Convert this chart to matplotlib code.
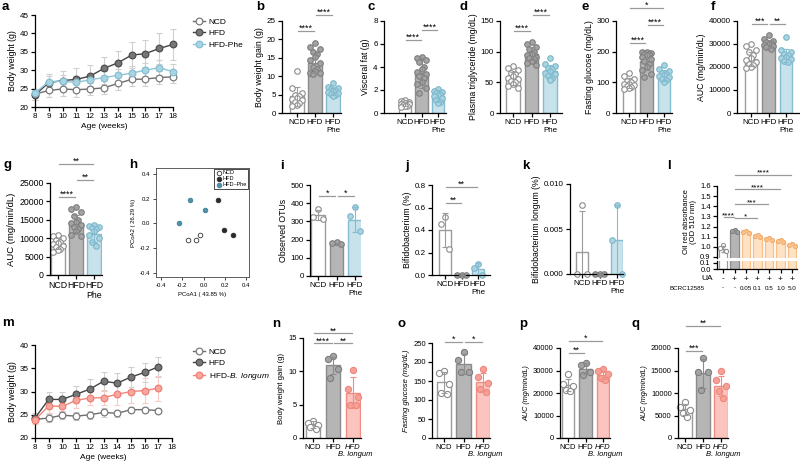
import numpy as np
import matplotlib
matplotlib.use('Agg')
import matplotlib.pyplot as plt
from matplotlib.lines import Line2D
from matplotlib.transforms import blended_transform_factory

plt.rcParams['font.family'] = ['Liberation Sans', 'DejaVu Sans']
plt.rcParams['mathtext.fontset'] = 'custom'
plt.rcParams['mathtext.rm'] = 'Liberation Sans'
plt.rcParams['mathtext.it'] = 'Liberation Sans:italic'
plt.rcParams['axes.linewidth'] = 0.9

# ---------------- data ----------------
weeks_a = [8, 9, 10, 11, 12, 13, 14, 15, 16, 17, 18]
a_ncd = [23.5, 24.5, 24.9, 24.7, 24.9, 25.2, 26.4, 27.5, 27.6, 28.0, 28.2]
a_ncd_sd = [1.5, 1.8, 2.0, 2.0, 1.7, 1.8, 1.8, 1.8, 1.8, 1.8, 1.8]
a_hfd = [23.3, 26.6, 27.2, 27.5, 28.4, 30.5, 32.0, 34.1, 34.5, 35.9, 37.0]
a_hfd_sd = [1.5, 2.3, 2.6, 3.0, 3.1, 3.0, 3.1, 3.5, 3.7, 4.2, 4.2]
a_phe = [23.8, 26.9, 27.0, 26.7, 27.4, 28.0, 28.6, 29.2, 30.0, 30.7, 29.6]
a_phe_sd = [1.2, 1.5, 1.6, 1.6, 1.7, 1.8, 1.8, 1.9, 2.0, 2.1, 2.0]

b_mean = [4.5, 13.7, 5.8]
b_sd = [2.5, 2.7, 1.0]
b_ncd = [11.5, 6.8, 5.5, 5.0, 4.6, 4.2, 3.8, 3.4, 3.0, 2.6, 2.2, 1.8]
b_hfd = [19.0, 18.0, 17.5, 16.5, 16.0, 15.2, 14.5, 13.5, 12.5, 12.0, 11.5, 11.0, 10.8, 10.5]
b_phe = [8.2, 7.2, 6.8, 6.5, 6.2, 6.0, 5.8, 5.5, 5.2, 5.0, 4.6]

c_mean = [0.8, 3.5, 1.5]
c_sd = [0.2, 1.3, 0.5]
c_ncd = [1.15, 1.05, 1.0, 0.95, 0.9, 0.85, 0.8, 0.75, 0.7, 0.65, 0.6, 0.55]
c_hfd = [4.85, 4.8, 4.6, 4.4, 4.0, 3.8, 3.6, 3.4, 3.2, 3.0, 2.7, 2.5, 2.2, 1.7]
c_phe = [2.05, 1.95, 1.85, 1.75, 1.65, 1.55, 1.45, 1.3, 1.15, 1.0, 0.85]

d_mean = [56, 97, 68]
d_sd = [11, 10, 10]
d_ncd = [76, 73, 70, 66, 63, 60, 57, 55, 52, 50, 47, 44, 41]
d_hfd = [116, 112, 108, 104, 100, 97, 95, 92, 90, 88, 85, 82, 78]
d_phe = [90, 80, 76, 73, 71, 69, 66, 63, 60, 57, 53]

e_mean = [98, 168, 122]
e_sd = [16, 28, 17]
e_ncd = [130, 122, 112, 105, 100, 96, 93, 90, 88, 85, 82, 79]
e_hfd = [200, 198, 196, 194, 192, 188, 182, 176, 170, 160, 150, 140, 128, 118]
e_phe = [157, 142, 136, 132, 128, 124, 120, 116, 112, 107, 102]

f_mean = [23500, 30000, 25000]
f_sd = [3200, 1800, 2800]
f_ncd = [30000, 29000, 27500, 26500, 25000, 24000, 23000, 22200, 21500, 20800, 20000, 19500]
f_hfd = [34000, 32000, 31500, 31000, 30500, 30000, 29500, 29000, 28500, 28000]
f_phe = [33000, 27500, 26500, 25500, 25000, 24500, 24000, 23500, 22500, 22000]

g_mean = [8600, 14000, 11200]
g_sd = [1400, 2400, 2200]
g_ncd = [11000, 10500, 10000, 9500, 9000, 8700, 8400, 8000, 7600, 7200, 6800, 6200]
g_hfd = [18500, 18000, 17000, 16000, 15000, 14500, 14000, 13500, 13000, 12500, 12000, 11000, 10500]
g_phe = [13500, 13300, 13100, 12900, 12600, 12000, 11000, 10000, 9000, 8000]

h_ncd_x = [-0.15, -0.07, -0.03]
h_ncd_y = [-0.13, -0.135, -0.095]
h_hfd_x = [0.14, 0.19, 0.28]
h_hfd_y = [0.19, -0.05, -0.095]
h_phe_x = [-0.13, 0.01, -0.23]
h_phe_y = [0.19, 0.11, 0.005]

i_mean = [335, 178, 310]
i_sd = [30, 6, 70]
i_ncd = [370, 322, 315]
i_hfd = [188, 180, 176]
i_phe = [380, 330, 248]

j_mean = [0.40, 0.0, 0.055]
j_sd = [0.15, 0.0, 0.05]
j_ncd = [0.52, 0.45, 0.23]
j_hfd = [0.0, 0.0, 0.0]
j_phe = [0.10, 0.065, 0.0]

k_mean = [0.0025, 0.0, 0.0038]
k_sd = [0.0045, 0.0, 0.0039]
k_ncd = [0.0077, 0.0, 0.0]
k_hfd = [0.0, 0.0, 0.0]
k_phe = [0.0077, 0.0038, 0.0]

l_mean = [0.98, 1.16, 1.15, 1.11, 1.08, 1.06, 1.02]
l_sd = [0.03, 0.01, 0.01, 0.01, 0.01, 0.01, 0.01]
l_pts = [[1.02, 0.99, 0.96], [1.17, 1.16, 1.15], [1.16, 1.15, 1.14],
         [1.12, 1.11, 1.10], [1.09, 1.08, 1.07], [1.07, 1.06, 1.05],
         [1.03, 1.02, 1.01]]
l_ua = ['-', '+', '+', '+', '+', '+', '+']
l_bcrc = ['-', '-', '0.05', '0.1', '0.5', '1.0', '5.0']

weeks_m = [8, 9, 10, 11, 12, 13, 14, 15, 16, 17]
m_ncd = [24.0, 24.3, 24.9, 24.7, 25.0, 25.5, 25.3, 26.1, 26.1, 25.9]
m_ncd_sd = [0.6, 0.9, 0.9, 0.8, 0.9, 0.9, 0.7, 0.6, 0.6, 0.6]
m_hfd = [24.3, 28.3, 28.3, 29.4, 30.5, 32.2, 31.8, 33.1, 34.1, 35.3]
m_hfd_sd = [1.0, 1.5, 1.5, 1.7, 2.2, 2.0, 2.1, 2.2, 2.1, 2.2]
m_bl = [23.9, 26.9, 26.8, 28.1, 28.6, 28.7, 29.4, 30.0, 30.2, 30.7]
m_bl_sd = [0.8, 1.5, 1.3, 1.6, 1.6, 1.6, 2.3, 2.5, 2.6, 2.7]

n_mean = [2.0, 10.9, 6.8]
n_sd = [0.5, 1.3, 2.3]
n_ncd = [2.6, 2.2, 1.9, 1.6, 1.4]
n_hfd = [12.3, 11.9, 10.4, 9.0]
n_bl = [10.2, 7.4, 6.2, 5.0, 5.0]

o_mean = [147, 195, 147]
o_sd = [28, 27, 24]
o_ncd = [176, 171, 142, 118, 116]
o_hfd = [226, 205, 175, 174]
o_bl = [182, 160, 145, 128, 120]

p_mean = [23500, 30800, 28000]
p_sd = [2800, 2400, 1800]
p_ncd = [28500, 24000, 23000, 21500, 21000]
p_hfd = [33500, 32500, 29500, 28000]
p_bl = [30500, 30000, 28500, 26500, 26000]

q_mean = [6400, 14400, 11600]
q_sd = [1200, 3200, 2200]
q_ncd = [8000, 6900, 6200, 5500, 4700]
q_hfd = [17800, 14700, 14700, 10700]
q_bl = [14800, 12800, 11500, 10500, 8800]

lab_phe = ['NCD', 'HFD', 'HFD\nPhe']
lab_bl = ['NCD', 'HFD', 'HFD']
sub_bl = 'B. longum'

# ---------------- styles ----------------
NCD = dict(face='white', edge='#9b9b9b', pface='white', pedge='#8c8c8c')
HFD = dict(face='#b5b5b5', edge='#8c8c8c', pface='#a3a3a3', pedge='#7d7d7d')
PHE = dict(face='#c7e2eb', edge='#86bcd0', pface='#a9d5e3', pedge='#7db6ca')
BL = dict(face='#fcc4be', edge='#f08c82', pface='#f6a198', pedge='#ee877d')
ORG = dict(face='#fde2c6', edge='#f7c089', pface='#f8c48f', pedge='#f2a865')

W, H = 800, 463
fig = plt.figure(figsize=(8, 4.63), dpi=100)


def px(l, r, t, b):
    return [l / W, 1 - b / H, (r - l) / W, (b - t) / H]


def spread(n):
    pat = [0.0, -0.26, 0.26, -0.13, 0.13]
    return np.array([pat[i % 5] for i in range(n)])


def tidy(ax, fs=5.8):
    ax.spines['top'].set_visible(False)
    ax.spines['right'].set_visible(False)
    ax.tick_params(direction='out', length=3, width=0.9, labelsize=fs, pad=1.5)


def sig(ax, x1, x2, y, s, fs=6.5):
    ax.plot([x1 + 0.06, x2 - 0.06], [y, y], color='#9a9a9a', lw=0.9, clip_on=False)
    ax.text((x1 + x2) / 2, y, s, ha='center', va='baseline', fontsize=fs, clip_on=False)


def bar_panel(box, c0, sp, means, sds, pts, styles, ylim, yticks, ylabel, xlabels,
              sigs=(), fs=5.8, lfs=6.3, yticklabels=None, sub3=None, ylab_it=False,
              ms=16):
    l, r, t, b = box
    ax = fig.add_axes(px(l, r, t, b))
    ax.set_xlim((l - c0) / sp, (r - c0) / sp)
    ax.set_ylim(*ylim)
    for i, st in enumerate(styles):
        ax.bar(i, means[i], width=0.74, color=st['face'], edgecolor=st['edge'],
               lw=1.0, zorder=1)
        vals = sorted(pts[i], reverse=True)
        ax.scatter(i + spread(len(vals)), vals, s=ms, facecolor=st['pface'],
                   edgecolor=st['pedge'], lw=0.8, zorder=2, clip_on=False)
        ax.errorbar(i, means[i], yerr=sds[i], color=st['edge'], capsize=2.2,
                    lw=0.8, capthick=0.8, zorder=3)
    ax.set_yticks(yticks)
    if yticklabels is not None:
        ax.set_yticklabels(yticklabels)
    ax.set_xticks(range(len(means)))
    ax.set_xticklabels(xlabels, fontsize=fs, linespacing=1.1)
    if sub3 is not None:
        ax.get_xticklabels()[2].set_style('italic')
        tr = blended_transform_factory(ax.transData, fig.transFigure)
        ax.text(2.1, 1 - (b + 17) / H, sub3, transform=tr, ha='center', va='center',
                fontsize=fs, style='italic')
    ax.set_ylabel(ylabel, fontsize=lfs, labelpad=2, style='italic' if ylab_it else 'normal')
    tidy(ax, fs)
    for s in sigs:
        sig(ax, *s)
    return ax


def line_panel(box, weeks, series, ylim, yticks, legend_xy, fs=5.8):
    l, r, t, b = box
    ax = fig.add_axes(px(l, r, t, b))
    handles = []
    for vals, sd, lc, mfc, mec, ec, lab in series:
        ax.errorbar(weeks, vals, yerr=sd, fmt='none', ecolor=ec, capsize=2.5,
                    elinewidth=0.8, capthick=0.8, zorder=1, clip_on=False)
    for vals, sd, lc, mfc, mec, ec, lab in series:
        ax.plot(weeks, vals, color=lc, lw=1.0, marker='o', ms=4.8, mfc=mfc, mec=mec,
                mew=0.9, zorder=3, clip_on=False)
        handles.append(Line2D([], [], color=lc, lw=1.0, marker='o', ms=4.8, mfc=mfc,
                              mec=mec, mew=0.9))
    ax.set_xlim(8, 18)
    ax.set_xticks(range(8, 19))
    ax.set_ylim(*ylim)
    ax.set_yticks(yticks)
    ax.set_xlabel('Age (weeks)', fontsize=6, labelpad=2)
    ax.set_ylabel('Body weight (g)', fontsize=6.3, labelpad=2)
    tidy(ax, fs)
    fig.legend(handles, [s[6] for s in series], loc='upper left',
               bbox_to_anchor=(legend_xy[0] / W, 1 - legend_xy[1] / H),
               frameon=False, fontsize=6, handlelength=1.4, handletextpad=0.5,
               labelspacing=0.45, borderpad=0, borderaxespad=0)
    return ax


def letter(x, y, s):
    fig.text(x / W, 1 - y / H, s, fontsize=9.5, fontweight='bold', ha='left', va='baseline')


# ---------------- row 1 ----------------
line_panel((35, 173, 15, 107), weeks_a,
           [(a_ncd, a_ncd_sd, '#6e6e6e', 'white', '#7a7a7a', '#d0d0d0', 'NCD'),
            (a_hfd, a_hfd_sd, '#444444', '#777777', '#4d4d4d', '#d0d0d0', 'HFD'),
            (a_phe, a_phe_sd, '#8ec5d6', '#a9d5e3', '#86bfd2', '#d0d0d0', 'HFD-Phe')],
           (20, 45), range(20, 46, 5), (193, 18))

bar_panel((282, 341, 21, 113), 297, 18, b_mean, b_sd, [b_ncd, b_hfd, b_phe],
          [NCD, HFD, PHE], (0, 25), range(0, 26, 5), 'Body weight gain (g)', lab_phe,
          sigs=[(0, 1, 22.3, '****'), (1, 2, 26.6, '****')])
bar_panel((384, 446, 21, 113), 405, 16.5, c_mean, c_sd, [c_ncd, c_hfd, c_phe],
          [NCD, HFD, PHE], (0, 8), range(0, 9, 2), 'Visceral fat (g)', lab_phe,
          sigs=[(0, 1, 6.35, '****'), (1, 2, 7.2, '****')])
bar_panel((500, 562, 21, 113), 513, 18.5, d_mean, d_sd, [d_ncd, d_hfd, d_phe],
          [NCD, HFD, PHE], (0, 150), range(0, 151, 50), 'Plasma triglyceride (mg/dL)',
          lab_phe, sigs=[(0, 1, 134, '****'), (1, 2, 160, '****')])
bar_panel((616, 672, 21, 113), 629, 17.5, e_mean, e_sd, [e_ncd, e_hfd, e_phe],
          [NCD, HFD, PHE], (0, 300), range(0, 301, 100), 'Fasting glucose (mg/dL)',
          lab_phe, sigs=[(0, 1, 228, '****'), (1, 2, 287, '****'), (0, 2, 342, '*')])
bar_panel((737, 799, 21, 113), 751, 17.5, f_mean, f_sd, [f_ncd, f_hfd, f_phe],
          [NCD, HFD, PHE], (0, 40000), range(0, 40001, 10000), 'AUC (mg/min/dL)',
          lab_phe, sigs=[(0, 1, 38700, '***'), (1, 2, 38700, '**')])

# ---------------- row 2 ----------------
bar_panel((50, 102, 183, 275), 58, 18, g_mean, g_sd, [g_ncd, g_hfd, g_phe],
          [NCD, HFD, PHE], (0, 25000), range(0, 25001, 5000), 'AUC (mg/min/dL)',
          lab_phe, fs=6.3, lfs=6.8,
          sigs=[(0, 1, 21200, '****'), (1, 2, 25800, '**'), (0, 2, 30200, '**')])

axh = fig.add_axes(px(156, 249, 168, 277))
axh.scatter(h_ncd_x, h_ncd_y, s=11, facecolor='white', edgecolor='#333333', lw=0.6,
            label='NCD')
axh.scatter(h_hfd_x, h_hfd_y, s=11, facecolor='#2a2a2a', edgecolor='#2a2a2a', lw=0.6,
            label='HFD')
axh.scatter(h_phe_x, h_phe_y, s=11, facecolor='#4e93ab', edgecolor='#3d7f96', lw=0.6,
            label='HFD\u2013Phe')
axh.set_xlim(-0.447, 0.428)
axh.set_ylim(-0.432, 0.448)
axh.set_xticks([-0.4, -0.2, 0.0, 0.2, 0.4])
axh.set_yticks([-0.4, -0.2, 0.0, 0.2, 0.4])
axh.set_xticklabels(['-0.4', '-0.2', '0.0', '0.2', '0.4'])
axh.set_yticklabels(['-0.4', '-0.2', '0.0', '0.2', '0.4'])
axh.tick_params(direction='out', length=2.5, width=0.5, labelsize=4.3, pad=1.5)
for sp_ in axh.spines.values():
    sp_.set_linewidth(0.6)
    sp_.set_color('#444444')
axh.set_xlabel('PCoA1 ( 43.85 %)', fontsize=4.3, labelpad=3)
axh.set_ylabel('PCoA2 ( 26.29 %)', fontsize=4.3, labelpad=3)
leg = axh.legend(loc='upper right', fontsize=4, frameon=True, fancybox=False,
                 edgecolor='black', framealpha=1, borderpad=0.35, handletextpad=0.1,
                 labelspacing=0.15, handlelength=1.0, borderaxespad=0.1)
leg.get_frame().set_linewidth(0.5)

bar_panel((310, 361, 185, 276), 318, 18.5, i_mean, i_sd, [i_ncd, i_hfd, i_phe],
          [NCD, HFD, PHE], (0, 500), range(0, 501, 100), 'Observed OTUs', lab_phe,
          sigs=[(0, 1, 440, '*'), (1, 2, 440, '*')])
bar_panel((432, 490, 185, 275), 445, 16.5, j_mean, j_sd, [j_ncd, j_hfd, j_phe],
          [NCD, HFD, PHE], (0, 0.8), [0, 0.2, 0.4, 0.6, 0.8], 'Bifidobacterium (%)',
          lab_phe, yticklabels=['0.0', '0.2', '0.4', '0.6', '0.8'],
          sigs=[(0, 1, 0.64, '**'), (0, 2, 0.785, '**')])
bar_panel((570, 623, 184, 274), 582, 17.5, k_mean, k_sd, [k_ncd, k_hfd, k_phe],
          [NCD, HFD, PHE], (0, 0.010), [0, 0.005, 0.010],
          'Bifidobacterium longum (%)', lab_phe,
          yticklabels=['0.000', '0.005', '0.010'])

# panel l : broken axis
l_styles = [NCD, HFD, ORG, ORG, ORG, ORG, ORG]
xl0, xl1, lc0, lsp = 717, 797, 723, 11.5
axu = fig.add_axes(px(xl0, xl1, 186, 258))
axd = fig.add_axes(px(xl0, xl1, 261, 269))
for ax in (axu, axd):
    ax.set_xlim((xl0 - lc0) / lsp, (xl1 - lc0) / lsp)
    for i, st in enumerate(l_styles):
        ax.bar(i, l_mean[i], width=0.74, color=st['face'], edgecolor=st['edge'], lw=0.9,
               zorder=1)
    tidy(ax, 5.5)
for i, st in enumerate(l_styles):
    axu.scatter(i + np.array([0.0, -0.25, 0.25]), l_pts[i], s=9, facecolor=st['pface'],
                edgecolor=st['pedge'], lw=0.7, zorder=2)
    axu.errorbar(i, l_mean[i], yerr=l_sd[i], color=st['edge'], capsize=1.5, lw=0.7,
                 zorder=3)
axu.set_ylim(0.89, 1.6)
axu.set_yticks(np.arange(0.9, 1.61, 0.1))
axu.set_yticklabels(['0.9', '1.0', '1.1', '1.2', '1.3', '1.4', '1.5', '1.6'])
axu.spines['bottom'].set_visible(False)
axu.set_xticks([])
axu.set_ylabel('Oil red absorbance\n(OD 510 nm)', fontsize=5.5, labelpad=2,
               linespacing=1.1)
axd.set_ylim(0, 0.133)
axd.set_yticks([0, 0.1])
axd.set_yticklabels(['0.0', '0.1'])
axd.set_xticks(range(7))
axd.set_xticklabels([])
for s in [(1, 6, 1.71, '****'), (1, 5, 1.57, '****'), (1, 4, 1.42, '***'),
          (1, 3, 1.28, '*'), (0, 1, 1.29, '****')]:
    sig(axu, *s, fs=6)
tr = blended_transform_factory(axd.transData, fig.transFigure)
for i in range(7):
    axd.text(i, 1 - 279 / H, l_ua[i], transform=tr, ha='center', va='center', fontsize=6)
    axd.text(i, 1 - 288 / H, l_bcrc[i], transform=tr, ha='center', va='center',
             fontsize=4.5)
fig.text(713 / W, 1 - 279 / H, 'UA', ha='right', va='center', fontsize=6)
fig.text(705 / W, 1 - 288 / H, 'BCRC12585', ha='right', va='center', fontsize=4.5)

# ---------------- row 3 ----------------
line_panel((35, 172, 345, 438), weeks_m,
           [(m_ncd, m_ncd_sd, '#6e6e6e', 'white', '#7a7a7a', '#d0d0d0', 'NCD'),
            (m_hfd, m_hfd_sd, '#444444', '#777777', '#4d4d4d', '#d0d0d0', 'HFD'),
            (m_bl, m_bl_sd, '#f2857a', '#f7a79f', '#ef7f74', '#f9cbc6',
             r'HFD-$\it{B.\ longum}$')],
           (20, 40), range(20, 41, 5), (193, 348))

bar_panel((303, 361, 338, 438), 313, 20, n_mean, n_sd, [n_ncd, n_hfd, n_bl],
          [NCD, HFD, BL], (0, 15), range(0, 16, 5), 'Body weight gain (g)', lab_bl,
          fs=5.5, lfs=5.6, sub3=sub_bl, ms=20,
          sigs=[(0, 1, 14.2, '****'), (1, 2, 14.2, '**'), (0, 2, 15.7, '**')])
bar_panel((432, 490, 343, 438), 444, 19.5, o_mean, o_sd, [o_ncd, o_hfd, o_bl],
          [NCD, HFD, BL], (0, 250), range(0, 251, 50), 'Fasting glucose (mg/dL)', lab_bl,
          fs=5.5, lfs=5.6, sub3=sub_bl, ylab_it=True, ms=20,
          sigs=[(0, 1, 253, '*'), (1, 2, 253, '*')])
bar_panel((560, 610, 348, 438), 568, 17.5, p_mean, p_sd, [p_ncd, p_hfd, p_bl],
          [NCD, HFD, BL], (0, 40000), range(0, 40001, 10000), 'AUC (mg/min/dL)', lab_bl,
          fs=5.5, lfs=5.2, sub3=sub_bl, ylab_it=True, ms=20,
          sigs=[(0, 1, 37800, '**'), (0, 2, 43100, '*')])
bar_panel((678, 728, 348, 438), 685, 18, q_mean, q_sd, [q_ncd, q_hfd, q_bl],
          [NCD, HFD, BL], (0, 20000), range(0, 20001, 5000), 'AUC (mg/min/dL)', lab_bl,
          fs=5.5, lfs=5.2, sub3=sub_bl, ylab_it=True, ms=20,
          sigs=[(0, 1, 19300, '***'), (0, 2, 24900, '**')])

# ---------------- panel letters ----------------
for x, y, s in [(2, 10, 'a'), (256, 10, 'b'), (367, 10, 'c'), (460, 10, 'd'),
                (581, 10, 'e'), (711, 10, 'f'),
                (3, 168, 'g'), (129, 168, 'h'), (280, 169, 'i'), (405, 169, 'j'),
                (522, 169, 'k'), (667, 169, 'l'),
                (2, 326, 'm'), (272, 327, 'n'), (397, 327, 'o'), (519, 327, 'p'),
                (631, 327, 'q')]:
    letter(x, y, s)

fig.savefig('out.png', dpi=100)
